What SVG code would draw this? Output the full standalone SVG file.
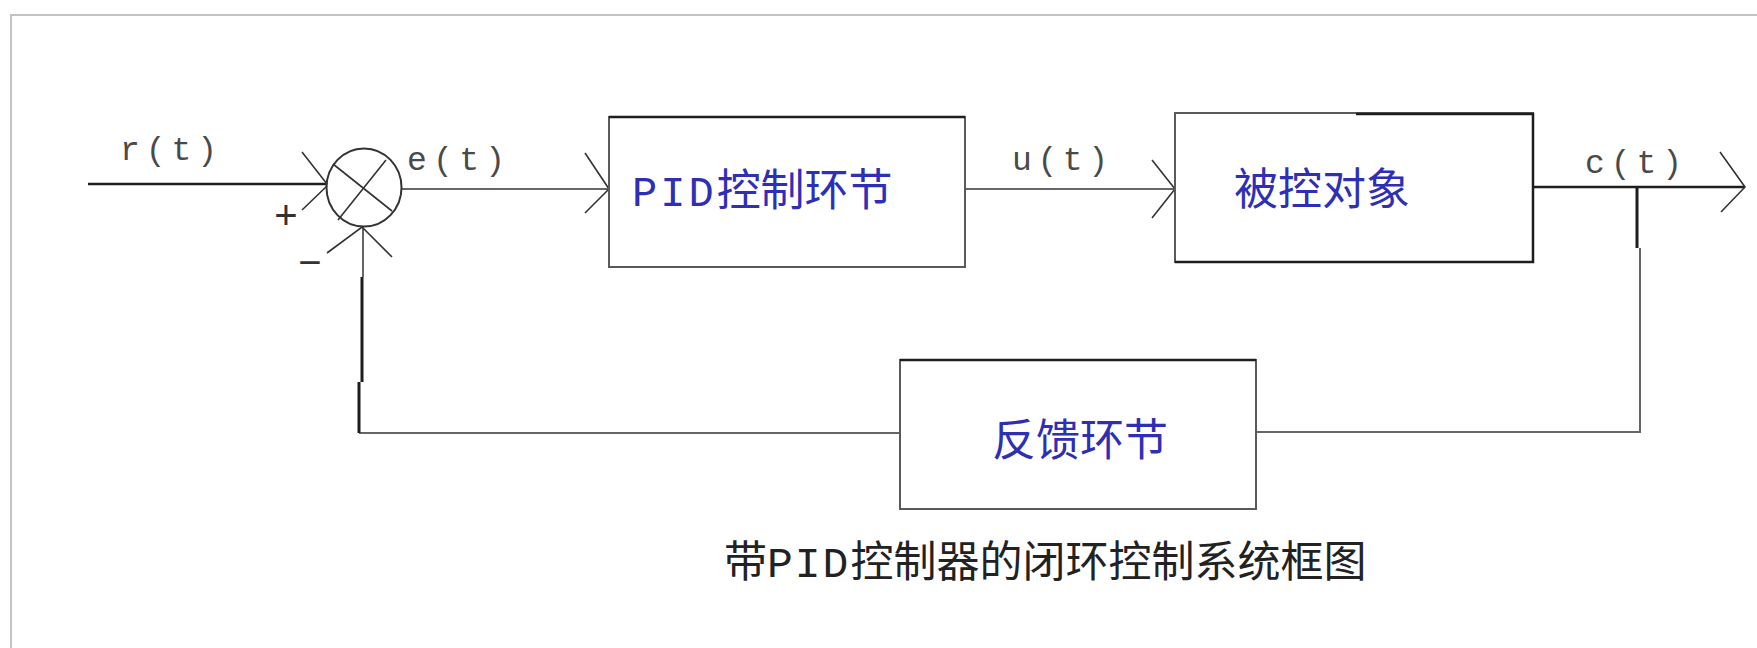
<svg xmlns="http://www.w3.org/2000/svg" width="1757" height="648" viewBox="0 0 1757 648">
  <style>
    .frame { fill: none; stroke: #c4c4c4; stroke-width: 2; }
    .box { fill: #ffffff; stroke: #5a5a5a; stroke-width: 2; }
    .edge { fill: none; stroke: #1e1e1e; stroke-width: 2.5; }
    .wire { fill: none; stroke: #666666; stroke-width: 2; }
    .wire-dark { fill: none; stroke: #1e1e1e; stroke-width: 3; }
    .chev { fill: none; stroke: #333333; stroke-width: 1.6; }
    .sig { font-family: "Liberation Mono", "DejaVu Sans Mono", monospace; font-size: 33px; fill: #4a4a4a; }
    .cn { font-family: "Noto Sans CJK SC", "Noto Sans", sans-serif; font-size: 44px; fill: #2f2fb5; }
    .mono { font-family: "Liberation Mono", "DejaVu Sans Mono", monospace; }
    .cap { font-family: "Noto Sans CJK SC", "Noto Sans", sans-serif; font-size: 43px; fill: #222222; }
    .sign { font-family: "Liberation Sans", "DejaVu Sans", sans-serif; font-size: 40px; fill: #333333; text-anchor: middle; }
  </style>

  <rect width="1757" height="648" fill="#ffffff"/>
  <path class="frame" d="M11,648 V15 H1757"/>

  <g id="connectors">
    <!-- r(t) input -->
    <path class="edge" d="M88,184 H327"/>
    <path class="chev" d="M302,152 L327,184 M302,210 L327,186"/>
    <!-- e(t) to PID -->
    <path class="wire" d="M402,189 H609"/>
    <path class="chev" d="M585,153 L609,189 L585,213"/>
    <!-- u(t) to plant -->
    <path class="wire" d="M965,189 H1175"/>
    <path class="chev" d="M1152,160 L1175,189 L1152,218"/>
    <!-- c(t) output -->
    <path class="edge" d="M1533,187 H1745"/>
    <path class="chev" d="M1720,152 L1745,187 L1721,212"/>
    <!-- feedback branch -->
    <path class="wire-dark" d="M1637,187 V248"/>
    <path class="wire" d="M1640,248 V432 H1256"/>
    <!-- feedback return -->
    <path class="wire" d="M900,433 H359"/>
    <path class="wire-dark" d="M359,433 V382 M362,382 V277"/>
    <path class="wire" d="M363,277 V227"/>
    <path class="chev" d="M327,253 L362,227 L392,257"/>
  </g>

  <g id="node-sum">
    <ellipse cx="364" cy="187.5" rx="37.5" ry="39" fill="none" stroke="#333333" stroke-width="2"/>
    <path class="chev" d="M333,164 L392,211 M386,160 L338,220"/>
    <text class="sign" x="286" y="229">+</text>
    <text class="sign" x="310" y="276">−</text>
  </g>

  <g id="node-pid">
    <rect class="box" x="609" y="117" width="356" height="150"/>
    <path class="edge" d="M609,117 H965"/>
    <text class="cn" x="632" y="206"><tspan class="mono" font-size="42" letter-spacing="3">PID</tspan><tspan>控制环节</tspan></text>
  </g>

  <g id="node-plant">
    <rect class="box" x="1175" y="113" width="358" height="149"/>
    <path class="edge" d="M1356,114 H1533 V262 H1175"/>
    <text class="cn" x="1234" y="205">被控对象</text>
  </g>

  <g id="node-feedback">
    <rect class="box" x="900" y="360" width="356" height="149"/>
    <path class="edge" d="M900,360 H1256"/>
    <text class="cn" x="992" y="456" font-size="42">反馈环节</text>
  </g>

  <g id="labels">
    <text class="sig" x="120" y="160" textLength="97" lengthAdjust="spacing">r(t)</text>
    <text class="sig" x="407" y="170" textLength="98" lengthAdjust="spacing">e(t)</text>
    <text class="sig" x="1012" y="170" textLength="96" lengthAdjust="spacing">u(t)</text>
    <text class="sig" x="1585" y="173" textLength="97" lengthAdjust="spacing">c(t)</text>
    <text class="cap" x="724" y="577">带<tspan class="mono" letter-spacing="2">PID</tspan>控制器的闭环控制系统框图</text>
  </g>
</svg>
